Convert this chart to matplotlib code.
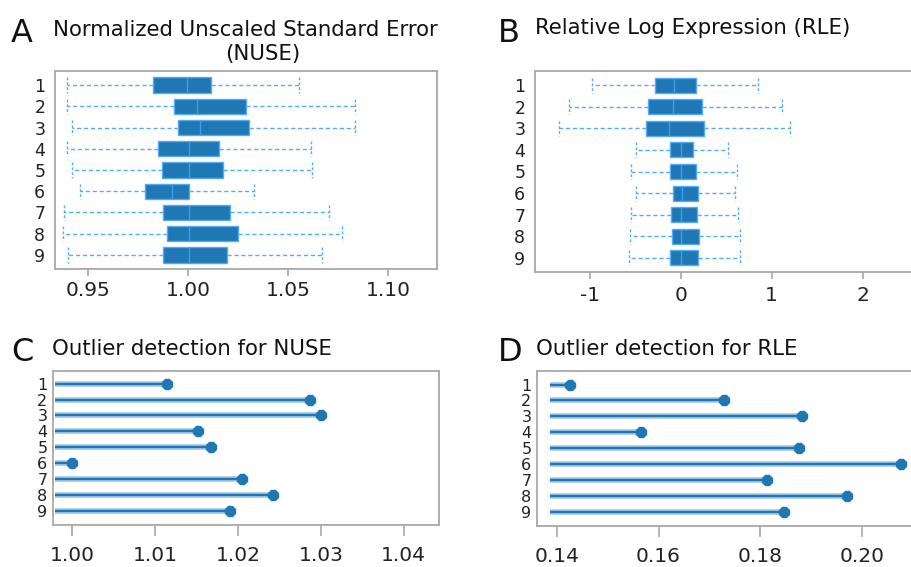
import numpy as np
import matplotlib
matplotlib.use('Agg')
import matplotlib.pyplot as plt

# sample labels (rows, top to bottom)
samples = ['1', '2', '3', '4', '5', '6', '7', '8', '9']

# NUSE box stats
nuse_wlo = [0.9395, 0.9395, 0.9423, 0.9395, 0.9423, 0.9462, 0.9383, 0.9375, 0.9403]
nuse_q1 = [0.9828, 0.9933, 0.9950, 0.9850, 0.9873, 0.9787, 0.9878, 0.9898, 0.9878]
nuse_med = [0.9995, 1.0045, 1.0062, 1.0007, 1.0007, 0.9923, 1.0007, 1.0007, 1.0007]
nuse_q3 = [1.0117, 1.0292, 1.0303, 1.0157, 1.0173, 1.0007, 1.0212, 1.0248, 1.0195]
nuse_whi = [1.0553, 1.0833, 1.0833, 1.0612, 1.0620, 1.0332, 1.0703, 1.0767, 1.0670]

# RLE box stats
rle_wlo = [-0.972, -1.229, -1.339, -0.495, -0.550, -0.495, -0.543, -0.558, -0.569]
rle_q1 = [-0.286, -0.356, -0.385, -0.117, -0.117, -0.081, -0.103, -0.099, -0.117]
rle_med = [-0.073, -0.084, -0.128, 0.000, 0.000, 0.018, 0.007, 0.007, 0.007]
rle_q3 = [0.165, 0.231, 0.250, 0.136, 0.172, 0.191, 0.183, 0.202, 0.194]
rle_whi = [0.851, 1.108, 1.204, 0.521, 0.613, 0.598, 0.631, 0.653, 0.650]

# outlier detection scores
nuse_score = [1.0115, 1.0287, 1.0300, 1.0152, 1.0168, 1.0000, 1.0205, 1.0242, 1.0190]
rle_score = [0.1426, 0.1728, 0.1883, 0.1566, 0.1876, 0.2077, 0.1813, 0.1970, 0.1847]

W, H = 912, 567
BOX_BLUE = '#1f77b4'
LIGHT = '#55aaff'
SPINE = '#a8a8a8'

fig = plt.figure(figsize=(W / 100, H / 100), dpi=100)


def px_axes(l, t, r, b):
    return fig.add_axes([l / W, 1 - b / H, (r - l) / W, (b - t) / H])


def style(ax, ylab_size, xpad):
    for s in ax.spines.values():
        s.set_color(SPINE)
        s.set_linewidth(1.3)
    ax.tick_params(axis='x', colors=SPINE, length=5, width=1.2,
                   labelsize=14.5, labelcolor='#222222', pad=xpad)
    ax.tick_params(axis='y', length=0, labelsize=ylab_size,
                   labelcolor='#222222', pad=7)


def boxes(ax, wlo, q1, med, q3, whi, width):
    stats = []
    for i in range(len(samples)):
        stats.append({'whislo': wlo[i], 'q1': q1[i], 'med': med[i],
                      'q3': q3[i], 'whishi': whi[i], 'fliers': []})
    pos = np.arange(1, len(samples) + 1)
    ax.bxp(stats, positions=pos, widths=width, vert=False, patch_artist=True,
           showfliers=False, capwidths=width,
           boxprops=dict(facecolor=BOX_BLUE, edgecolor=LIGHT, linewidth=1),
           medianprops=dict(color='#3d9cf0', linewidth=1),
           whiskerprops=dict(color=LIGHT, linewidth=1, linestyle=(0, (3, 2))),
           capprops=dict(color=LIGHT, linewidth=1, linestyle=(0, (2, 1.5))))
    ax.set_yticks(pos)
    ax.set_yticklabels(samples)
    ax.set_ylim(9.66, 0.34)


def lollipop(ax, scores, base):
    pos = np.arange(1, len(samples) + 1)
    ax.hlines(pos, base, scores, color='#9fc4e6', linewidth=4)
    ax.hlines(pos, base, scores, color=BOX_BLUE, linewidth=1.6)
    ax.plot(scores, pos, linestyle='none', marker='8', markersize=8.5,
            color=BOX_BLUE)
    ax.set_yticks(pos)
    ax.set_yticklabels(samples)


# A
axA = px_axes(55, 71, 437, 269)
boxes(axA, nuse_wlo, nuse_q1, nuse_med, nuse_q3, nuse_whi, 0.72)
axA.set_xlim(0.9337, 1.1243)
axA.set_xticks([0.95, 1.00, 1.05, 1.10])
axA.set_xticklabels(['0.95', '1.00', '1.05', '1.10'])
style(axA, 12.5, 4)

# B
axB = px_axes(535, 71, 925, 272)
boxes(axB, rle_wlo, rle_q1, rle_med, rle_q3, rle_whi, 0.7)
axB.set_xlim(-1.604, 2.686)
axB.set_xticks([-1, 0, 1, 2])
axB.set_xticklabels(['-1', '0', '1', '2'])
style(axB, 12.5, 5)

# C
axC = px_axes(53, 371, 439, 525)
lollipop(axC, nuse_score, 0.9979)
axC.set_xlim(0.99771, 1.04426)
axC.set_ylim(9.88, 0.21)
axC.set_xticks([1.00, 1.01, 1.02, 1.03, 1.04])
axC.set_xticklabels(['1.00', '1.01', '1.02', '1.03', '1.04'])
style(axC, 11.5, 7)
axC.tick_params(axis='x', length=8)
axC.tick_params(axis='y', pad=4)

# D
axD = px_axes(537, 371, 925, 526)
lollipop(axD, rle_score, 0.1386)
axD.set_xlim(0.1361, 0.2124)
axD.set_ylim(9.9, 0.15)
axD.set_xticks([0.14, 0.16, 0.18, 0.20])
axD.set_xticklabels(['0.14', '0.16', '0.18', '0.20'])
style(axD, 11.5, 7)
axD.tick_params(axis='x', length=8)
axD.tick_params(axis='y', pad=4)


# titles and panel letters
def ftext(x, y, s, size, ha='left'):
    fig.text(x / W, 1 - y / H, s, fontsize=size, ha=ha, va='baseline',
             color='#111111')


ftext(11, 42, 'A', 23)
ftext(245, 36, 'Normalized Unscaled Standard Error', 15.3, ha='center')
ftext(263, 60, '(NUSE)', 15.3, ha='center')
ftext(498, 42, 'B', 23)
ftext(535, 34, 'Relative Log Expression (RLE)', 15.3)
ftext(11, 361, 'C', 23)
ftext(52, 355, 'Outlier detection for NUSE', 15.3)
ftext(498, 361, 'D', 23)
ftext(536, 355, 'Outlier detection for RLE', 15.3)

fig.savefig('out.png', dpi=100)
